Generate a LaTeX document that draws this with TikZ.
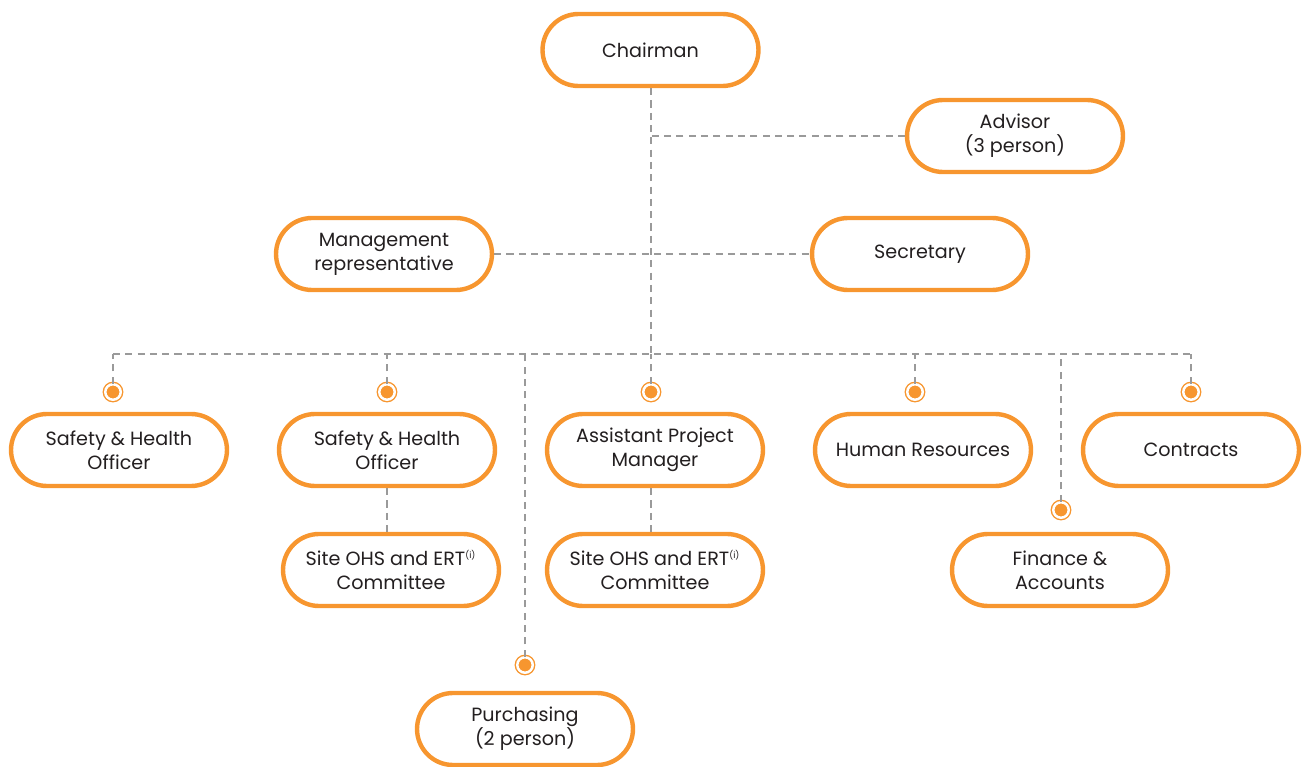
\documentclass[tikz,border=0pt]{standalone}
\usepackage{fontspec}
\setmainfont{Poppins}
\usetikzlibrary{positioning}
\definecolor{orgc}{HTML}{F7962F}
\definecolor{linec}{HTML}{9A9A9A}
\definecolor{txtc}{HTML}{231F20}

\begin{document}
\begin{tikzpicture}[x=0.02cm,y=-0.02cm,font=\fontsize{10.9}{13.6}\selectfont,
  pill/.style={draw=orgc, line width=2.5pt, rounded corners=0.72cm, fill=white,
    minimum width=4.32cm, minimum height=1.44cm, align=center, text=txtc},
  link/.style={draw=linec, dash pattern=on 4pt off 3pt, line width=0.7pt},
  dot/.style={circle, draw=orgc, fill=orgc, line width=0.8pt, double=white,
    double distance=1.4pt, minimum size=0.31cm, inner sep=0pt}]

\useasboundingbox (0,0) rectangle (1303,767);

% top of the chart
\node[pill] (chair) at (650.5,50) {Chairman};
\node[pill] (adv) at (1015,136) {Advisor\\(3 person)};
\node[pill] (mgmt) at (384,254) {Management\\representative};
\node[pill] (secr) at (920,254) {Secretary};

% departments
\node[pill] (safA) at (119,450) {Safety \& Health\\Officer};
\node[pill] (safB) at (387,450) {Safety \& Health\\Officer};
\node[pill] (apm) at (655,450) {Assistant Project\\Manager};
\node[pill] (hr) at (923,450) {Human Resources};
\node[pill] (ctr) at (1191,450) {Contracts};
\node[pill] (ohsA) at (391,570) {Site OHS and ERT\textsuperscript{\tiny(i)}\\Committee};
\node[pill] (ohsB) at (655,570) {Site OHS and ERT\textsuperscript{\tiny(i)}\\Committee};
\node[pill] (fin) at (1060,570) {Finance \&\\Accounts};
\node[pill] (purch) at (525,729) {Purchasing\\(2 person)};

% dots
\node[dot] (dSafA) at (113,392) {};
\node[dot] (dSafB) at (387,392) {};
\node[dot] (dApm) at (651,392) {};
\node[dot] (dHr) at (915,392) {};
\node[dot] (dCtr) at (1191,392) {};
\node[dot] (dFin) at (1061,510) {};
\node[dot] (dPurch) at (525,665) {};

\coordinate (busL) at (113,354);
\coordinate (busR) at (1191,354);
\coordinate (hub) at (651,354);

% connectors
\draw[link] (chair.south -| hub) -- (hub);
\draw[link] (adv.west) -- (adv.west -| hub);
\draw[link] (mgmt.east) -- (secr.west);
\draw[link] (busL) -- (busR);
\draw[link] (dSafA) -- (dSafA |- busL);
\draw[link] (dSafB) -- (dSafB |- busL);
\draw[link] (dApm) -- (dApm |- busL);
\draw[link] (dHr) -- (dHr |- busL);
\draw[link] (dCtr) -- (dCtr |- busL);
\draw[link] (dFin) -- (dFin |- busL);
\draw[link] (dPurch) -- (dPurch |- busL);
\draw[link] (safB.south) -- (safB.south |- ohsA.north);
\draw[link] (apm.south -| dApm) -- (ohsB.north -| dApm);

\end{tikzpicture}
\end{document}
